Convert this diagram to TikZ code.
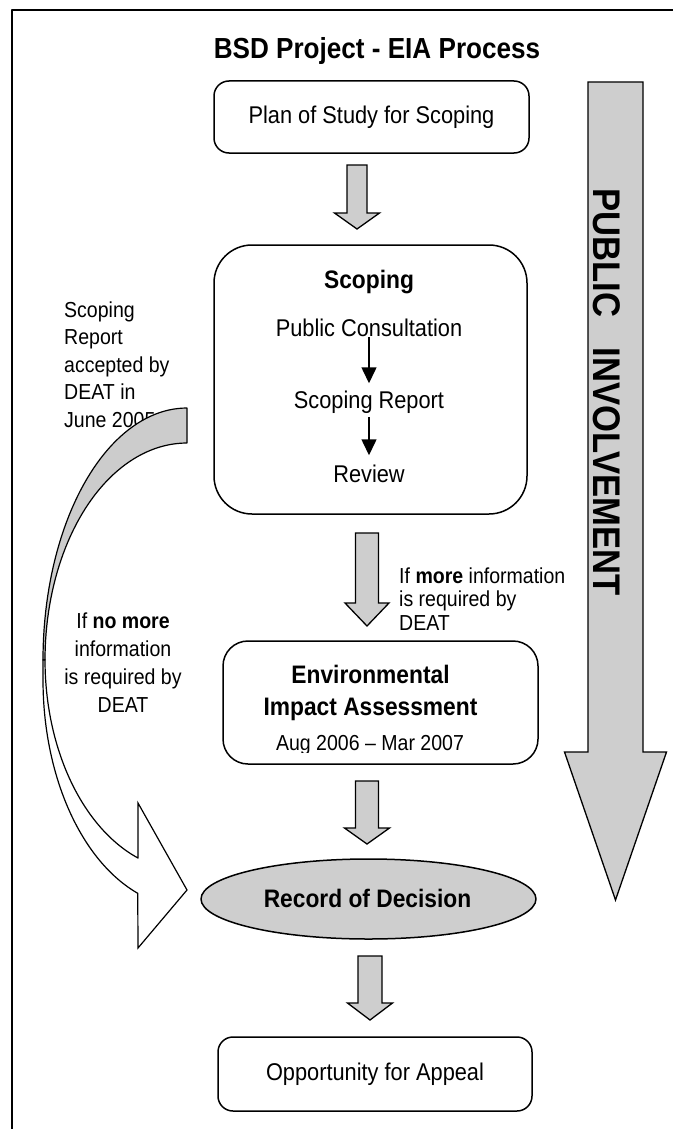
\documentclass[tikz,border=0pt]{standalone}
\usepackage{fontspec}
\setmainfont[FakeStretch=0.9]{Liberation Sans}
\usetikzlibrary{arrows.meta,calc,shapes.geometric}
\definecolor{fillgray}{RGB}{206,206,206}
\definecolor{bandgray}{RGB}{204,204,204}
\newcommand\fmain{\fontsize{24.2}{29}\selectfont}
\newcommand\fbold{\bfseries\fontsize{25.3}{32}\selectfont}
\newcommand\blkdown[6]{\draw[blk] (#1-#5,#2) -- (#1+#5,#2) -- (#1+#5,#3) -- (#1+#6,#3) -- (#1,#4) -- (#1-#6,#3) -- (#1-#5,#3) -- cycle;}
\begin{document}
\begin{tikzpicture}[x=1pt,y=-1pt,line join=round,
  box/.style={draw,line width=1.5pt,inner sep=0pt},
  txt/.style={inner sep=0pt},
  blk/.style={draw,line width=1.3pt,fill=fillgray,line join=miter},
  smarr/.style={line width=1.5pt,-{Triangle[length=16pt,width=15pt]}},
  band/.style={draw,line width=1.2pt}]
\useasboundingbox (0,0) rectangle (673,1129);
\draw[line width=1.5pt] (12,1129) -- (12,10) -- (673,10);

% title
\node[txt,anchor=base,font=\bfseries\fontsize{29}{34}\selectfont] (title) at (377,59) {BSD Project - EIA Process};

% plan of study
\node[box,rounded corners=15pt,minimum width=315pt,minimum height=72pt,font=\fmain] (plan) at (371.5,117) {Plan of Study for Scoping};

% scoping box
\node[box,rounded corners=38pt,minimum width=313pt,minimum height=269pt] (scop) at (370.5,379.5) {};
\node[txt,anchor=base,font=\fbold] (scopt) at (369,288) {Scoping};
\node[txt,anchor=base,font=\fmain] (pc) at (369,336) {Public Consultation};
\node[txt,anchor=base,font=\fmain] (sr) at (369,408) {Scoping Report};
\node[txt,anchor=base,font=\fmain] (rev) at (369,482) {Review};
\draw[smarr,shorten <=1pt,shorten >=7pt] (pc.south) -- (pc.south |- sr.north);
\draw[smarr,shorten <=4pt,shorten >=9pt] (sr.south) -- (sr.south |- rev.north);

% EIA box
\node[box,rounded corners=25pt,minimum width=315pt,minimum height=123pt] (eia) at (380.5,702.5) {};
\node[txt,anchor=base,align=center,font=\fbold] (eiat) at (370.5,715) {Environmental\\Impact Assessment};
\begin{scope}
\clip (223,600) rectangle (540,752);
\node[txt,anchor=base,font=\fontsize{21.7}{26}\selectfont] (eiad) at (370,750) {Aug 2006 -- Mar 2007};
\end{scope}

% record of decision
\node[draw,line width=1.5pt,ellipse,fill=fillgray,minimum width=335pt,minimum height=80pt,inner sep=0pt] (rod) at (368.5,899) {};
\node[txt,anchor=base,font=\fbold] (rodt) at (367.5,907) {Record of Decision};

% appeal
\node[box,rounded corners=15pt,minimum width=314pt,minimum height=74pt,font=\fmain] (app) at (375,1074) {Opportunity for Appeal};

% block arrows
\blkdown{357}{165}{213}{229}{10}{22.5}
\blkdown{367}{533}{603}{626}{11.5}{22}
\blkdown{367}{781}{828}{844}{11.5}{22.5}
\blkdown{370}{956}{1003}{1020}{12}{22.5}
\blkdown{615.5}{82}{752}{900}{27.5}{51}

% public involvement
\node[txt,rotate=-90,anchor=base west,font=\bfseries\fontsize{38.5}{40}\selectfont] (pi) at (593,188) {PUBLIC \hspace{21pt}INVOLVEMENT};

% side texts (base anchor = last line)
\node[txt,anchor=base west,align=left,font=\fontsize{21.7}{27.5}\selectfont] (acc) at (64,427) {Scoping\\Report\\accepted by\\DEAT in\\June 2005};
\node[txt,anchor=base,align=center,font=\fontsize{21.7}{28}\selectfont] (nomore) at (123,712) {If \textbf{no more}\\information\\is required by\\DEAT};
\node[txt,anchor=base west,align=left,font=\fontsize{21.7}{23.5}\selectfont] (more) at (399,630) {If \textbf{more} information\\is required by\\DEAT};

% curved arrow: back (gray) part
\filldraw[band,fill=bandgray]
  plot[domain=270:180,samples=50] ({187+144*cos(\x)},{660+252*sin(\x)})
  -- plot[domain=180:270,samples=50] ({187+142*cos(\x)},{660+217*sin(\x)})
  -- cycle;
% front (white) part with head
\coordinate (hup) at (138,858);
\coordinate (htop) at (138,803);
\coordinate (hbot) at (138,948);
\coordinate (htip) at (187,890);
\filldraw[band,fill=white,line join=miter] (43,660)
  -- plot[domain=180:110,samples=50] ({187+144*cos(\x)},{680+227*sin(\x)})
  -- (hbot) -- (htip) -- (htop) -- (hup)
  -- plot[domain=110.2:180,samples=50] ({187+142*cos(\x)},{660+211*sin(\x)})
  -- cycle;
\end{tikzpicture}
\end{document}
